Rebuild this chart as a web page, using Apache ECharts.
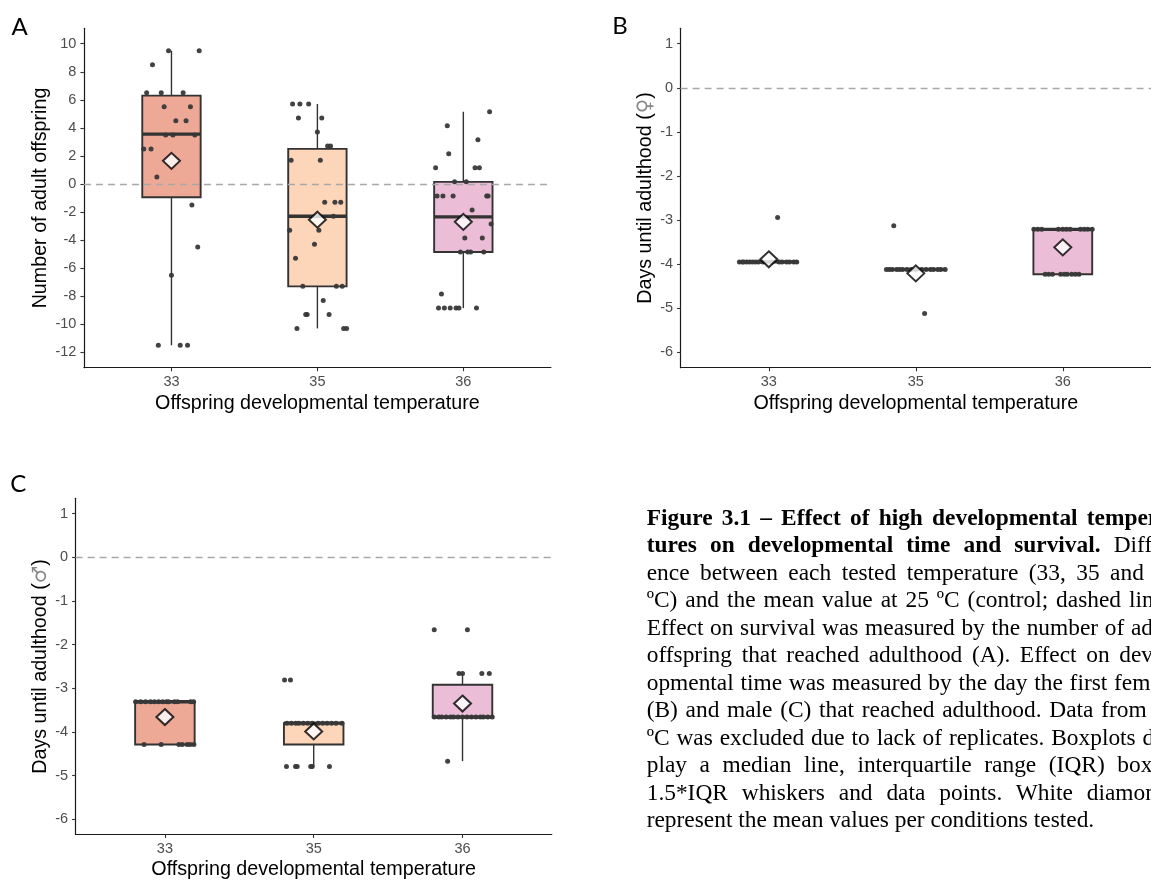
<!DOCTYPE html>
<html><head><meta charset="utf-8">
<script src="https://cdn.jsdelivr.net/npm/echarts@6.0.0/dist/echarts.min.js"></script>
<style>
html,body{margin:0;padding:0;overflow:hidden;background:#fff;width:1151px;height:881px;}
#chart{position:absolute;left:0;top:0;width:1151px;height:881px;}
#caption{position:absolute;left:646.7px;top:503.8px;width:531px;font-family:'Liberation Serif','Times New Roman',serif;font-size:23.4px;line-height:27.5px;color:#000;}
#caption div{text-align:justify;text-align-last:justify;}
#caption div.last{text-align:left;text-align-last:left;}
</style></head><body>
<div id="chart"></div>
<div id="caption">
<div><b>Figure 3.1 – Effect of high developmental tempera-</b></div>
<div><b>tures on developmental time and survival.</b> Differ-</div>
<div>ence between each tested temperature (33, 35 and 36</div>
<div>ºC) and the mean value at 25 ºC (control; dashed line).</div>
<div>Effect on survival was measured by the number of adult</div>
<div>offspring that reached adulthood (A). Effect on devel-</div>
<div>opmental time was measured by the day the first female</div>
<div>(B) and male (C) that reached adulthood. Data from 37</div>
<div>ºC was excluded due to lack of replicates. Boxplots dis-</div>
<div>play a median line, interquartile range (IQR) boxes,</div>
<div>1.5*IQR whiskers and data points. White diamonds</div>
<div class="last">represent the mean values per conditions tested.</div>
</div>
<script>
// ---------- data ----------
const categories = ['33', '35', '36'];
const yTicksA = [-12, -10, -8, -6, -4, -2, 0, 2, 4, 6, 8, 10];
const yTicksBC = [-6, -5, -4, -3, -2, -1, 0, 1];

// box stats per category: [lower whisker, Q1, median, Q3, upper whisker]
const boxA = [[-11.5, -0.95, 3.55, 6.3, 9.5], [-10.3, -7.3, -2.3, 2.5, 5.7], [-8.85, -4.85, -2.35, 0.15, 5.15]];
const meanA = [1.65, -2.55, -2.7];
const boxB = [[-3.95, -3.95, -3.95, -3.95, -3.95], [-4.12, -4.12, -4.12, -4.12, -4.12], [-4.23, -4.23, -3.21, -3.21, -3.21]];
const meanB = [-3.89, -4.21, -3.62];
const boxC = [[-4.29, -4.29, -3.31, -3.31, -3.31], [-4.79, -4.29, -3.80, -3.80, -3.80], [-4.67, -3.66, -3.66, -2.92, -2.66]];
const meanC = [-3.66, -3.99, -3.35];

// jittered points per category: [horizontal jitter (category units), value]
const ptsA33 = [[-0.02,9.5],[0.19,9.5],[-0.13,8.5],[-0.17,6.5],[-0.07,6.5],[0.08,6.5],[-0.05,5.5],[0.13,5.5],[0.03,4.5],[0.10,4.5],[-0.04,3.5],[0.01,3.5],[0.16,3.5],[-0.19,2.5],[-0.14,2.5],[-0.10,0.5],[0.14,-1.5],[0.18,-4.5],[0.0,-6.5],[-0.09,-11.5],[0.06,-11.5],[0.11,-11.5]];
const ptsA35 = [[-0.17,5.7],[-0.12,5.7],[-0.06,5.7],[-0.13,4.7],[0.03,4.7],[0.0,3.7],[0.07,2.7],[0.09,2.7],[-0.18,1.7],[0.02,1.7],[0.05,-1.3],[0.12,-1.3],[0.16,-1.3],[0.11,-2.3],[-0.19,-3.3],[0.01,-3.3],[-0.02,-4.3],[-0.15,-5.3],[-0.10,-7.3],[0.13,-7.3],[0.17,-7.3],[0.04,-8.3],[-0.08,-9.3],[-0.07,-9.3],[0.08,-9.3],[-0.14,-10.3],[0.18,-10.3],[0.20,-10.3]];
const ptsA36 = [[0.18,5.15],[-0.11,4.15],[0.10,3.15],[-0.10,2.15],[-0.19,1.15],[0.08,1.15],[0.11,1.15],[-0.06,0.15],[0.02,0.15],[-0.18,-0.85],[-0.14,-0.85],[-0.07,-0.85],[0.16,-0.85],[0.17,-0.85],[0.06,-1.85],[0.19,-2.85],[0.01,-3.85],[0.13,-3.85],[-0.02,-4.85],[0.03,-4.85],[0.05,-4.85],[0.14,-4.85],[-0.15,-7.85],[-0.17,-8.85],[-0.13,-8.85],[-0.09,-8.85],[-0.05,-8.85],[-0.03,-8.85],[0.09,-8.85]];

const ptsB33 = [[0.06,-2.94],[-0.20,-3.95],[-0.18,-3.95],[-0.17,-3.95],[-0.15,-3.95],[-0.13,-3.95],[-0.11,-3.95],[-0.09,-3.95],[-0.07,-3.95],[-0.04,-3.95],[0.02,-3.95],[0.07,-3.95],[0.09,-3.95],[0.12,-3.95],[0.14,-3.95],[0.17,-3.95],[0.19,-3.95]];
const ptsB35 = [[-0.15,-3.13],[0.06,-5.12],[-0.20,-4.12],[-0.18,-4.12],[-0.16,-4.12],[-0.13,-4.12],[-0.11,-4.12],[-0.09,-4.12],[-0.06,-4.12],[-0.03,-4.12],[0.0,-4.12],[0.04,-4.12],[0.07,-4.12],[0.10,-4.12],[0.12,-4.12],[0.15,-4.12],[0.17,-4.12],[0.20,-4.12]];
const ptsB36 = [[-0.197,-3.21],[-0.17,-3.21],[-0.143,-3.21],[-0.03,-3.21],[0.0,-3.21],[0.025,-3.21],[0.05,-3.21],[0.12,-3.21],[0.146,-3.21],[0.17,-3.21],[0.2,-3.21],[-0.12,-4.23],[-0.096,-4.23],[-0.07,-4.23],[-0.015,-4.23],[0.01,-4.23],[0.03,-4.23],[0.06,-4.23],[0.085,-4.23],[0.11,-4.23]];

const ptsC33 = [[-0.197,-3.31],[-0.163,-3.31],[-0.13,-3.31],[-0.096,-3.31],[-0.07,-3.31],[-0.042,-3.31],[-0.015,-3.31],[0.011,-3.31],[0.025,-3.31],[0.065,-3.31],[0.085,-3.31],[0.173,-3.31],[0.193,-3.31],[-0.14,-4.29],[-0.025,-4.29],[0.094,-4.29],[0.117,-4.29],[0.15,-4.29],[0.17,-4.29],[0.195,-4.29]];
const ptsC35 = [[-0.196,-2.81],[-0.156,-2.81],[-0.183,-4.79],[-0.122,-4.79],[-0.111,-4.79],[-0.02,-4.79],[-0.01,-4.79],[0.106,-4.79],[-0.18,-3.80],[-0.15,-3.80],[-0.12,-3.80],[-0.10,-3.80],[-0.07,-3.80],[-0.04,-3.80],[-0.01,-3.80],[0.03,-3.80],[0.06,-3.80],[0.09,-3.80],[0.12,-3.80],[0.15,-3.80],[0.19,-3.80]];
const ptsC36 = [[-0.19,-1.66],[0.033,-1.66],[-0.024,-2.66],[0.0,-2.66],[0.13,-2.66],[0.18,-2.66],[-0.1,-4.67],[-0.19,-3.66],[-0.16,-3.66],[-0.14,-3.66],[-0.11,-3.66],[-0.08,-3.66],[-0.06,-3.66],[-0.03,-3.66],[0.0,-3.66],[0.03,-3.66],[0.06,-3.66],[0.09,-3.66],[0.12,-3.66],[0.14,-3.66],[0.17,-3.66],[0.2,-3.66]];

// ---------- styles ----------
const FONT = "'Liberation Sans', Arial, sans-serif";
const FILLS = ['#EDA996', '#FDD5B8', '#EBBDD7'];
const EDGE = '#333333';
const BOX_WIDTH = 0.4;
const TITLE_SIZE = 19.7;
const TICK_SIZE = 14.5;

function boxData(stats) { return stats.map((s, i) => [i + 1].concat(s)); }
function pointData(groups) {
  const out = [];
  groups.forEach((g, i) => g.forEach(p => out.push([i + 1 + p[0], p[1]])));
  return out;
}
function meanData(means) { return means.map((m, i) => [i + 1, m]); }

function renderBox(params, api) {
  const x = api.value(0);
  const vals = [1, 2, 3, 4, 5].map(k => api.value(k));
  const ys = vals.map(v => api.coord([x, v])[1]);
  const cx = api.coord([x, vals[2]])[0];
  const w = api.size([BOX_WIDTH, 0])[0];
  const l = cx - w / 2;
  const wl = { stroke: EDGE, lineWidth: 1.4 };
  return {
    type: 'group', children: [
      { type: 'line', shape: { x1: cx, y1: ys[3], x2: cx, y2: ys[4] }, style: wl },
      { type: 'line', shape: { x1: cx, y1: ys[1], x2: cx, y2: ys[0] }, style: wl },
      { type: 'rect', shape: { x: l, y: ys[3], width: w, height: ys[1] - ys[3] }, style: { fill: FILLS[params.dataIndex], stroke: EDGE, lineWidth: 1.9 } },
      { type: 'line', shape: { x1: l, y1: ys[2], x2: l + w, y2: ys[2] }, style: { stroke: EDGE, lineWidth: 3.3 } }
    ]
  };
}

function xAxisCfg(gi) {
  return {
    gridIndex: gi, type: 'value', min: 0.4, max: 3.6,
    name: 'Offspring developmental temperature', nameLocation: 'middle', nameGap: 25.5,
    nameTextStyle: { fontSize: TITLE_SIZE, color: '#000', fontFamily: FONT },
    axisLine: { show: true, onZero: false, lineStyle: { color: '#1a1a1a', width: 1.2 } },
    axisTick: { show: true, length: 3.5, customValues: [1, 2, 3], lineStyle: { color: '#333', width: 1.1 } },
    axisLabel: { customValues: [1, 2, 3], formatter: v => categories[Math.round(v) - 1], fontSize: TICK_SIZE, color: '#4d4d4d', margin: 6.5, fontFamily: FONT },
    splitLine: { show: false }
  };
}
function yAxisCfg(gi, min, max, ticks, name, gap) {
  return {
    gridIndex: gi, type: 'value', min: min, max: max,
    name: name, nameLocation: 'middle', nameGap: gap, nameRotate: 90,
    nameTextStyle: { fontSize: TITLE_SIZE, color: '#000', fontFamily: FONT,
      rich: { t: { fontSize: TITLE_SIZE, color: '#000', fontFamily: FONT }, s: { fontSize: TITLE_SIZE, color: '#888', fontFamily: "'DejaVu Sans', sans-serif" } } },
    axisLine: { show: true, onZero: false, lineStyle: { color: '#1a1a1a', width: 1.2 } },
    axisTick: { show: true, length: 3.5, customValues: ticks, lineStyle: { color: '#333', width: 1.1 } },
    axisLabel: { customValues: ticks, fontSize: TICK_SIZE, color: '#4d4d4d', margin: 7.5, fontFamily: FONT },
    splitLine: { show: false }
  };
}

function panelSeries(gi, box, pts, means) {
  return [
    { type: 'custom', xAxisIndex: gi, yAxisIndex: gi, renderItem: renderBox, data: boxData(box),
      encode: { x: 0, y: [1, 2, 3, 4, 5] }, z: 2, silent: true },
    { type: 'scatter', xAxisIndex: gi, yAxisIndex: gi, data: pointData(pts), symbolSize: 5,
      itemStyle: { color: '#383838', opacity: 0.95 }, z: 3, silent: true,
      markLine: { silent: true, symbol: 'none', label: { show: false }, animation: false,
        lineStyle: { color: '#a8a8a8', type: [7, 5], width: 1.3 }, data: [{ yAxis: 0 }] } },
    { type: 'scatter', xAxisIndex: gi, yAxisIndex: gi, data: meanData(means), symbol: 'diamond', symbolSize: [17, 16],
      itemStyle: { color: '#fff', borderColor: '#000', borderWidth: 2 }, z: 4, silent: true }
  ];
}

const chart = echarts.init(document.getElementById('chart'), null, { renderer: 'canvas' });
chart.setOption({
  animation: false,
  backgroundColor: '#fff',
  textStyle: { fontFamily: FONT },
  grid: [
    { left: 83.9, top: 28.3, width: 467, height: 339.4 },
    { left: 680.6, top: 28.3, width: 476.2, height: 339.4 },
    { left: 75.6, top: 498.3, width: 476.2, height: 340.5 }
  ],
  xAxis: [xAxisCfg(0), xAxisCfg(1), xAxisCfg(2)],
  yAxis: [
    yAxisCfg(0, -13.1, 11.1, yTicksA, 'Number of adult offspring', 33),
    yAxisCfg(1, -6.35, 1.35, yTicksBC, '{t|Days until adulthood (}{s|♀}{t|)}', 25),
    yAxisCfg(2, -6.35, 1.35, yTicksBC, '{t|Days until adulthood (}{s|♂}{t|)}', 24.7)
  ],
  graphic: [
    { type: 'text', x: 19.5, y: 27, style: { text: 'A', font: "24px Lato, 'Liberation Sans', sans-serif", fill: '#000', textAlign: 'center', textVerticalAlign: 'middle' } },
    { type: 'text', x: 620, y: 26.5, style: { text: 'B', font: "24px Lato, 'Liberation Sans', sans-serif", fill: '#000', textAlign: 'center', textVerticalAlign: 'middle' } },
    { type: 'text', x: 18.2, y: 484, style: { text: 'C', font: "24px Lato, 'Liberation Sans', sans-serif", fill: '#000', textAlign: 'center', textVerticalAlign: 'middle' } }
  ],
  series: [].concat(
    panelSeries(0, boxA, [ptsA33, ptsA35, ptsA36], meanA),
    panelSeries(1, boxB, [ptsB33, ptsB35, ptsB36], meanB),
    panelSeries(2, boxC, [ptsC33, ptsC35, ptsC36], meanC)
  )
});
</script>
</body></html>
